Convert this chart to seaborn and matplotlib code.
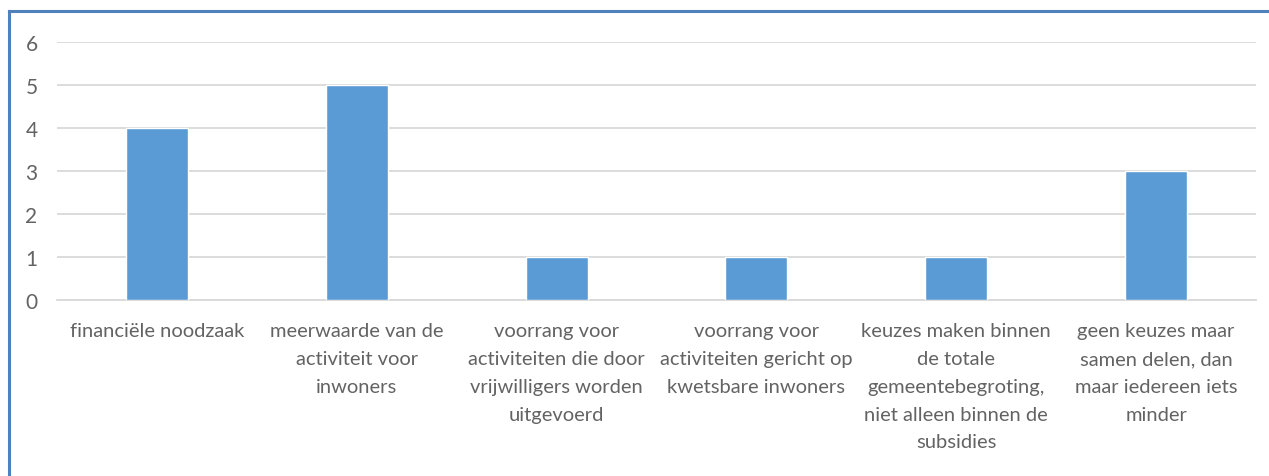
import matplotlib
matplotlib.use("Agg")
import matplotlib.pyplot as plt
import seaborn as sns
import pandas as pd
from matplotlib.lines import Line2D

categories = [
    "financiële noodzaak",
    "meerwaarde van de\nactiviteit voor\ninwoners",
    "voorrang voor\nactiviteiten die door\nvrijwilligers worden\nuitgevoerd",
    "voorrang voor\nactiviteiten gericht op\nkwetsbare inwoners",
    "keuzes maken binnen\nde totale\ngemeentebegroting,\nniet alleen binnen de\nsubsidies",
    "geen keuzes maar\nsamen delen, dan\nmaar iedereen iets\nminder",
]
values = [4, 5, 1, 1, 1, 3]
yticks = [0, 1, 2, 3, 4, 5, 6]

sns.set_theme(style="white")
plt.rcParams["font.family"] = ["Lato", "DejaVu Sans"]

df = pd.DataFrame({"cat": categories, "val": values})

fig = plt.figure(figsize=(12.69, 4.77), dpi=100)
ax = fig.add_axes([57 / 1269, (477 - 301) / 477, 1199 / 1269, 258 / 477])

sns.barplot(data=df, x="cat", y="val", ax=ax, color="#5B9BD5", width=0.31,
            saturation=1, zorder=3)

ax.set_ylim(0, 6)
ax.set_xlim(-0.5, len(categories) - 0.5)
ax.set_yticks(yticks)
ax.set_yticklabels([str(t) for t in yticks])
ax.yaxis.grid(True, color="#D9D9D9", linewidth=1.3, zorder=0)
ax.set_axisbelow(True)
for s in ["top", "right", "left"]:
    ax.spines[s].set_visible(False)
ax.spines["bottom"].set_color("#D9D9D9")
ax.spines["bottom"].set_linewidth(1.3)
ax.set_xlabel("")
ax.set_ylabel("")
ax.tick_params(axis="both", length=0, colors="#636363")
ax.tick_params(axis="y", pad=14, labelsize=15)
ax.tick_params(axis="x", pad=16, labelsize=14.5)
for lbl in ax.get_xticklabels():
    lbl.set_linespacing(1.77)
    lbl.set_ha("center")
    lbl.set_va("top")
    lbl.set_multialignment("center")

# outer chart frame (cropped on right/bottom)
x0 = 9 / 1269
y0 = (477 - 12) / 477
fig.add_artist(Line2D([x0, x0], [0, y0], transform=fig.transFigure,
                      color="#4F81BD", linewidth=2.2, solid_capstyle="projecting"))
fig.add_artist(Line2D([x0, 1.01], [y0, y0], transform=fig.transFigure,
                      color="#4F81BD", linewidth=2.2, solid_capstyle="projecting"))

fig.savefig("out.png", dpi=100)
